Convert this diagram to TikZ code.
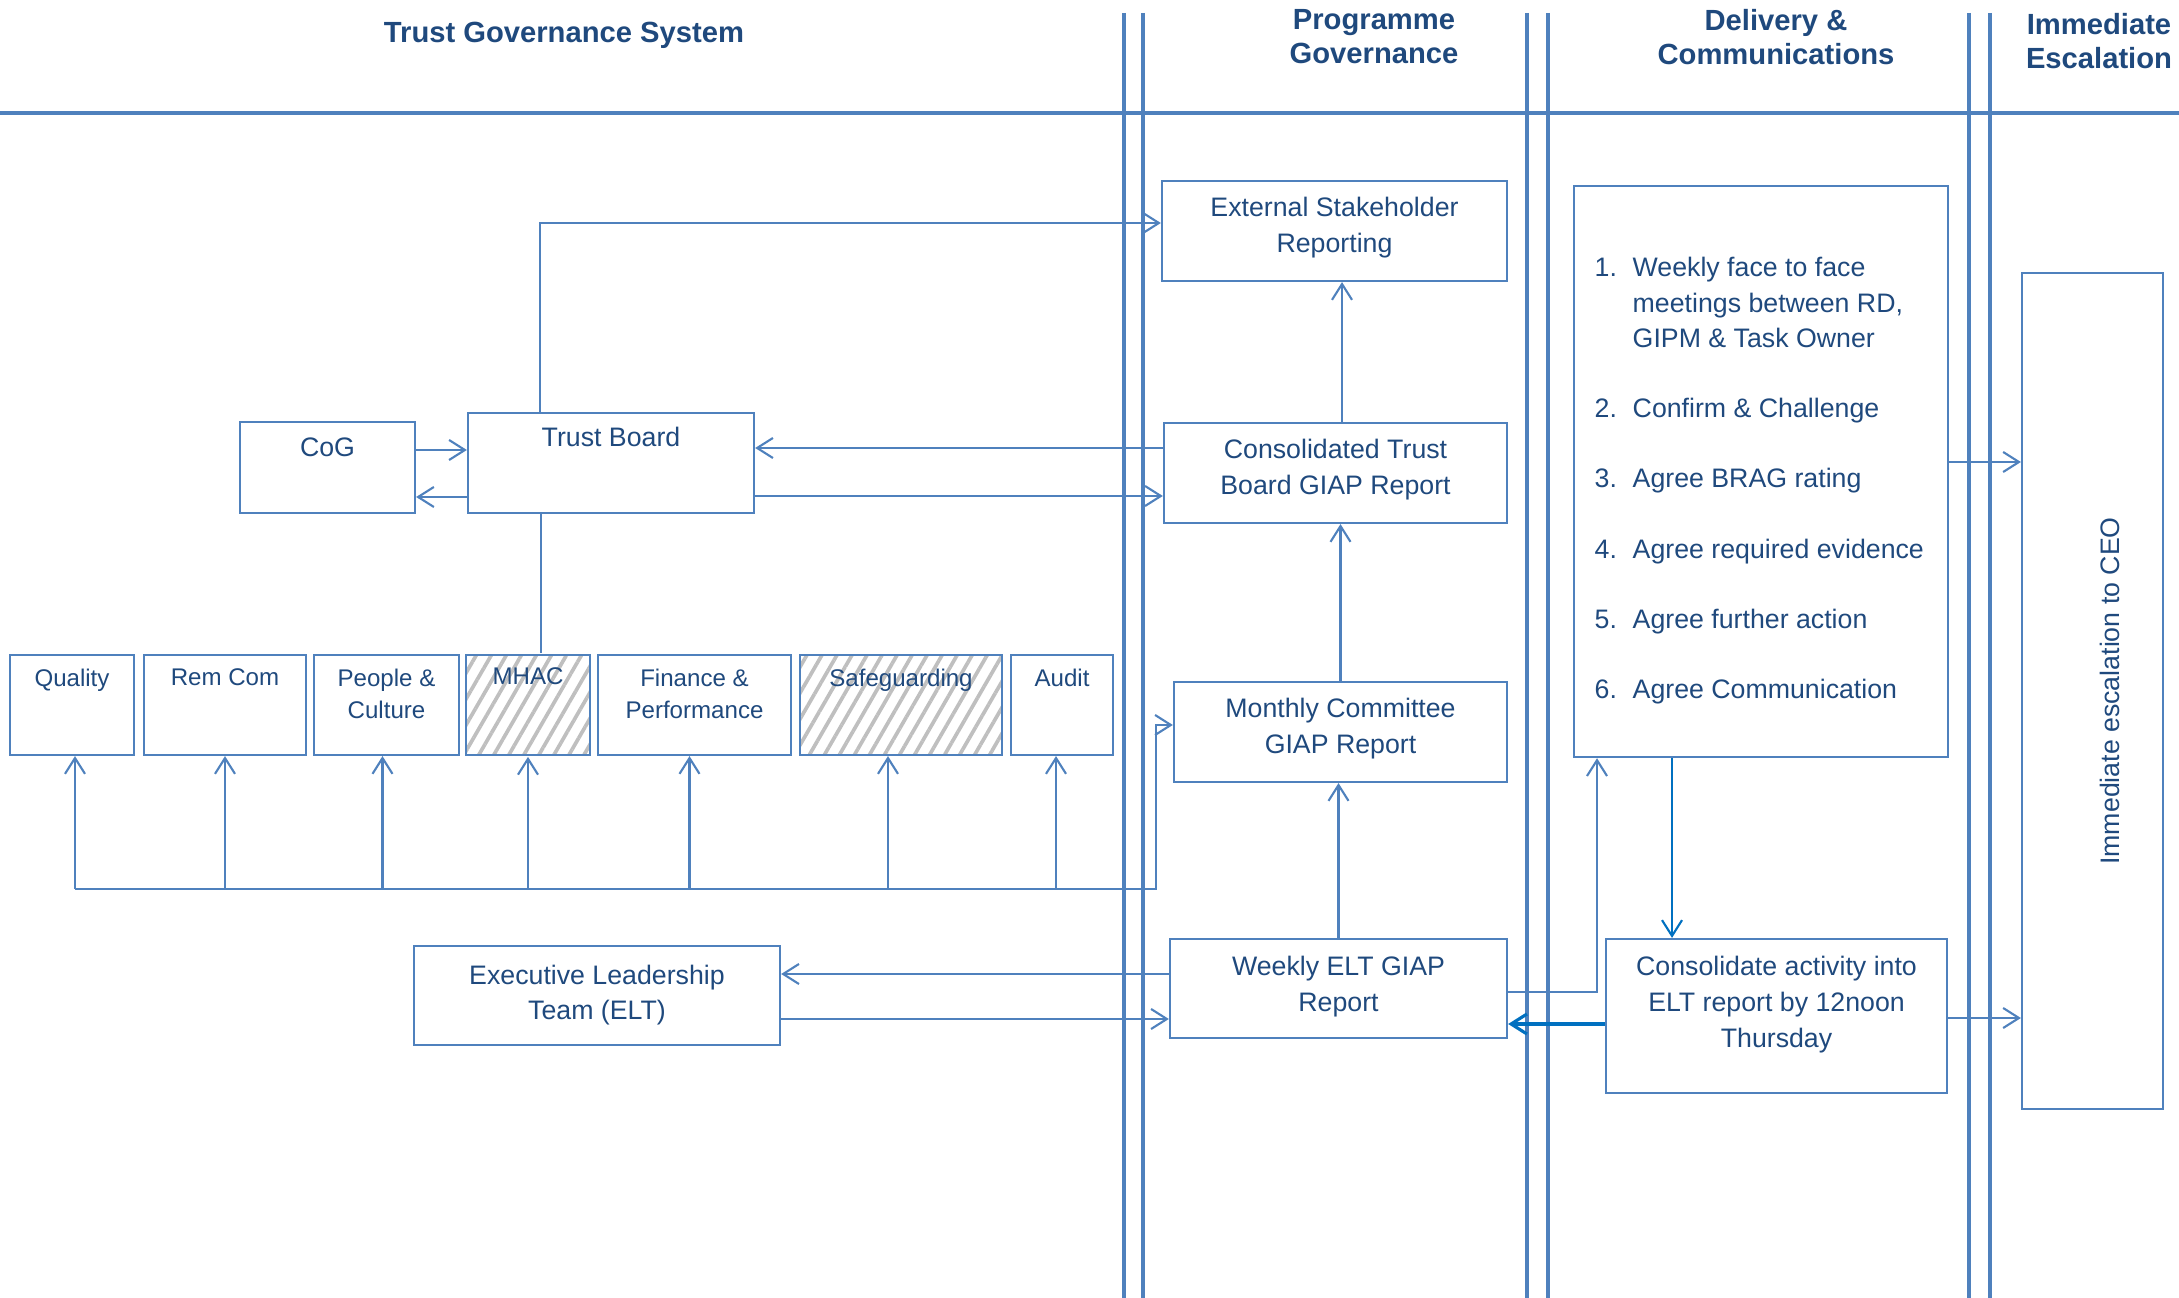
\documentclass[tikz,border=0pt]{standalone}
\usepackage{fontspec}
\setmainfont{Liberation Sans}
\usetikzlibrary{arrows.meta, patterns.meta}

\definecolor{laneblue}{HTML}{4F81BD}
\definecolor{boxblue}{HTML}{4F81BD}
\definecolor{navy}{HTML}{1F497D}
\definecolor{strongblue}{HTML}{0070C0}
\definecolor{hatchgrey}{HTML}{BFBFBF}

\newcommand{\headfont}{\fontsize{8.3}{9.7}\selectfont\bfseries}
\newcommand{\boxfont}{\fontsize{7.6}{10.1}\selectfont}
\newcommand{\listfont}{\fontsize{7.6}{10.0}\selectfont}
\newcommand{\comfont}{\fontsize{6.85}{9.1}\selectfont}

\tikzset{
  lane/.style={laneblue, line width=1.2pt},
  box/.style={draw=boxblue, line width=0.6pt, inner sep=0pt},
  boxlabel/.style={anchor=north, inner sep=0pt, yshift=-0.17cm, align=center, text=navy, font=\boxfont},
  comlabel/.style={boxlabel, yshift=0.03cm, font=\comfont},
  hatched/.style={pattern={Lines[angle=60,distance=3.7pt,line width=1.05pt]}, pattern color=hatchgrey},
  head/.style={inner sep=0pt, align=center, text=navy, font=\headfont},
  wire/.style={boxblue, line width=0.6pt},
  link/.style={wire, ->},
}

\begin{document}
\begin{tikzpicture}[x=0.01cm, y=-0.01cm, >={Straight Barb[length=4.5pt,width=5.7pt]}]
    \useasboundingbox (0,0) rectangle (2179,1298);
    % swim lanes
    \draw[lane] (0,113) -- (2179,113);
    \draw[lane] (1124,13) -- (1124,1298);
    \draw[lane] (1143,13) -- (1143,1298);
    \draw[lane] (1527,13) -- (1527,1298);
    \draw[lane] (1548,13) -- (1548,1298);
    \draw[lane] (1969,13) -- (1969,1298);
    \draw[lane] (1990,13) -- (1990,1298);
    \node[head, anchor=base] (hTrust) at (564,43) {Trust Governance System};
    \node[head, anchor=north] (hProg) at (1374,9) {Programme\\Governance};
    \node[head, anchor=north] (hDel) at (1776,9) {Delivery \&\\Communications};
    \node[head, anchor=north] (hEsc) at (2099,13) {Immediate\\Escalation};

    % programme governance
    \node[box, minimum width=3.45cm, minimum height=1cm, label={[boxlabel]north:{External Stakeholder\\Reporting}}] (ext) at (1334.5,231) {};
    \node[box, minimum width=3.43cm, minimum height=1cm, label={[boxlabel]north:{Consolidated Trust\\Board GIAP Report}}] (cons) at (1335.5,473) {};
    \node[box, minimum width=3.33cm, minimum height=1cm, label={[boxlabel]north:{Monthly Committee\\GIAP Report}}] (mon) at (1340.5,732) {};
    \node[box, minimum width=3.37cm, minimum height=0.99cm, label={[boxlabel, yshift=-0.01cm]north:{Weekly ELT GIAP\\Report}}] (wk) at (1338.5,988.5) {};

    % trust governance
    \node[box, minimum width=1.75cm, minimum height=0.91cm, label={[boxlabel, yshift=0.01cm]north:CoG}] (cog) at (327.5,467.5) {};
    \node[box, minimum width=2.86cm, minimum height=1cm, label={[boxlabel, yshift=0.02cm]north:Trust Board}] (tb) at (611,463) {};
    \node[box, minimum width=3.66cm, minimum height=0.99cm, label={[boxlabel, yshift=-0.02cm]north:{Executive Leadership\\Team (ELT)}}] (elt) at (597,995.5) {};
    \node[box, minimum width=1.24cm, minimum height=1cm, label={[comlabel]north:Quality}] (qual) at (72,705) {};
    \node[box, minimum width=1.62cm, minimum height=1cm, label={[comlabel]north:Rem Com}] (rem) at (225,705) {};
    \node[box, minimum width=1.45cm, minimum height=1cm, label={[comlabel]north:{People \&\\Culture}}] (ppl) at (386.5,705) {};
    \node[box, hatched, minimum width=1.24cm, minimum height=1cm, label={[comlabel]north:MHAC}] (mhac) at (528,705) {};
    \node[box, minimum width=1.93cm, minimum height=1cm, label={[comlabel]north:{Finance \&\\Performance}}] (fin) at (694.5,705) {};
    \node[box, hatched, minimum width=2.02cm, minimum height=1cm, label={[comlabel]north:Safeguarding}] (safe) at (901,705) {};
    \node[box, minimum width=1.02cm, minimum height=1cm, label={[comlabel]north:Audit}] (audit) at (1062,705) {};

    % delivery and escalation
    \node[box, minimum width=3.74cm, minimum height=5.71cm] (dlv) at (1761,471.5) {};
    \node[anchor=base west, inner sep=0pt, text=navy, font=\listfont] (steps) at (1594,277) {%
      \begin{tabular}[t]{@{}p{10.8pt}@{}l@{}}
      1. & Weekly face to face\\
         & meetings between RD,\\
         & GIPM \& Task Owner\\[10pt]
      2. & Confirm \& Challenge\\[10pt]
      3. & Agree BRAG rating\\[10pt]
      4. & Agree required evidence\\[10pt]
      5. & Agree further action\\[10pt]
      6. & Agree Communication
      \end{tabular}};
    \node[box, minimum width=3.41cm, minimum height=1.54cm, label={[boxlabel, yshift=-0.01cm]north:{Consolidate activity into\\ELT report by 12noon\\Thursday}}] (act) at (1776.5,1016) {};
    \node[box, minimum width=1.41cm, minimum height=8.36cm] (esc) at (2092.5,691) {};
    \node[rotate=90, inner sep=0pt, text=navy, font=\boxfont] (escText) at (2110,691) {Immediate escalation to CEO};

    % connectors
    \draw[link] (540,0 |- tb.north) |- (ext.west |- 0,223);
    \draw[link] (cog.east |- 0,450) -- (tb.west |- 0,450);
    \draw[link] (tb.west |- 0,497) -- (cog.east |- 0,497);
    \draw[link] (cons.west |- 0,448) -- (tb.east |- 0,448);
    \draw[link] (tb.east |- 0,496) -- (cons.west |- 0,496);
    \draw[link] (1342,0 |- cons.north) -- (1342,0 |- ext.south);
    \draw[link] (mon.north) -- (mon.north |- cons.south);
    \draw[link] (wk.north) -- (wk.north |- mon.south);
    \draw[link] (wk.west |- 0,974) -- (elt.east |- 0,974);
    \draw[link] (elt.east |- 0,1019) -- (wk.west |- 0,1019);
    \draw[wire] (541,0 |- tb.south) -- (541,0 |- mhac.north);

    \coordinate (busL) at (75,889);
    \coordinate (busR) at (1156,889);
    \draw[link] (busL) -- (busR) |- (mon.west |- 0,725);
    \draw[link] ([xshift=0.03cm]qual.south |- busL) -- ([xshift=0.03cm]qual.south);
    \draw[link] (rem.south |- busL) -- (rem.south);
    \draw[link] ([xshift=-0.04cm]ppl.south |- busL) -- ([xshift=-0.04cm]ppl.south);
    \draw[link] (mhac.south |- busL) -- (mhac.south);
    \draw[link] ([xshift=-0.05cm]fin.south |- busL) -- ([xshift=-0.05cm]fin.south);
    \draw[link] ([xshift=-0.13cm]safe.south |- busL) -- ([xshift=-0.13cm]safe.south);
    \draw[link] ([xshift=-0.06cm]audit.south |- busL) -- ([xshift=-0.06cm]audit.south);

    \draw[link] (wk.east |- 0,992) -| (1597,0 |- dlv.south);
    \draw[link, strongblue] (1672,0 |- dlv.south) -- (1672,0 |- act.north);
    \draw[link, strongblue, line width=0.9pt] (act.west |- 0,1024) -- (wk.east |- 0,1024);
    \draw[link] (dlv.east |- 0,462) -- (esc.west |- 0,462);
    \draw[link] (act.east |- 0,1018) -- (esc.west |- 0,1018);
\end{tikzpicture}
\end{document}
